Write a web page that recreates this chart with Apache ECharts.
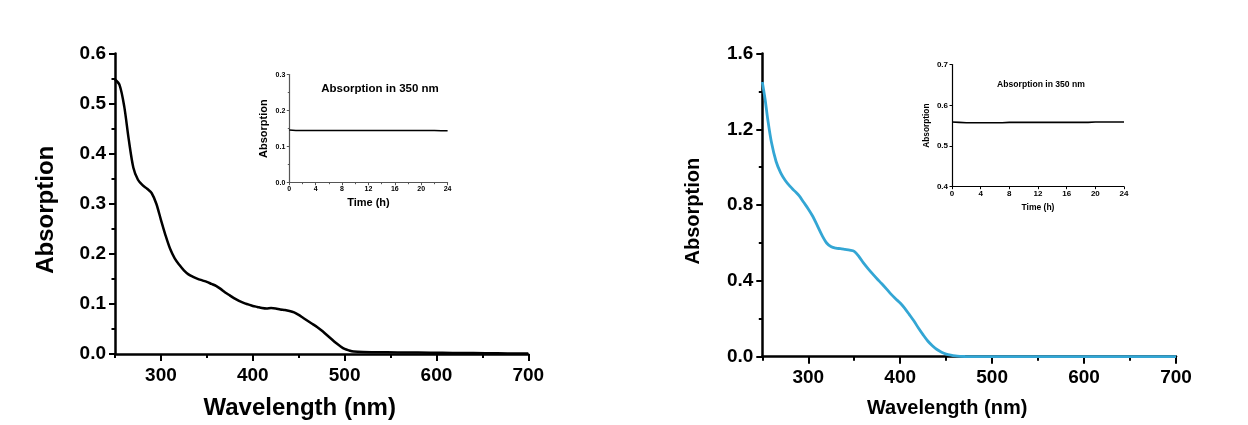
<!DOCTYPE html>
<html>
<head>
<meta charset="utf-8">
<script src="https://cdn.jsdelivr.net/npm/echarts@6/dist/echarts.min.js"></script>
<style>html,body{margin:0;padding:0;background:#fff}#c{width:1248px;height:425px}</style>
</head>
<body>
<div id="c"></div>
<script>
// ---- data ----
const leftWavelength = [250,255,260,265,270,275,280,285,290,295,300,305,310,315,320,325,330,335,340,345,350,355,360,365,370,375,380,385,390,395,400,405,410,415,420,425,430,435,440,445,450,455,460,465,470,475,480,485,490,495,500,505,510,520,540,560,580,600,620,640,660,680,700];
const leftAbsorption = [0.548,0.537,0.495,0.428,0.372,0.348,0.337,0.330,0.321,0.300,0.268,0.237,0.210,0.191,0.178,0.167,0.159,0.154,0.150,0.147,0.144,0.140,0.136,0.130,0.123,0.117,0.111,0.106,0.102,0.099,0.096,0.094,0.092,0.091,0.092,0.091,0.089,0.088,0.086,0.083,0.078,0.072,0.066,0.060,0.054,0.047,0.039,0.031,0.023,0.016,0.010,0.007,0.005,0.004,0.0035,0.003,0.003,0.0025,0.002,0.002,0.0015,0.001,0.001];

const rightWavelength = [250,253,256,260,265,270,275,280,285,290,295,300,305,310,315,320,325,330,335,340,345,350,355,360,365,370,375,380,385,390,395,400,405,410,415,420,425,430,435,440,445,450,455,460,465,470,480,500,550,600,650,700];
const rightAbsorption = [1.45,1.36,1.25,1.13,1.03,0.97,0.93,0.90,0.875,0.85,0.815,0.78,0.74,0.69,0.64,0.600,0.580,0.573,0.570,0.566,0.562,0.556,0.530,0.495,0.465,0.437,0.410,0.385,0.358,0.330,0.306,0.283,0.255,0.222,0.188,0.150,0.115,0.083,0.058,0.038,0.024,0.014,0.008,0.004,0.002,0.001,0,0,0,0,0,0];

const insetTime = [0,1,2,3,4,5,6,7,8,9,10,11,12,13,14,15,16,17,18,19,20,21,22,23,24];
const leftInsetAbs = [0.146,0.145,0.145,0.145,0.145,0.145,0.145,0.145,0.145,0.145,0.145,0.145,0.145,0.145,0.145,0.145,0.145,0.145,0.145,0.145,0.145,0.145,0.145,0.144,0.144];
const rightInsetAbs = [0.559,0.558,0.557,0.557,0.557,0.557,0.557,0.557,0.558,0.558,0.558,0.558,0.558,0.558,0.558,0.558,0.558,0.558,0.558,0.558,0.559,0.559,0.559,0.559,0.559];

const xMajorTicks = [300,400,500,600,700];
const titles = {
  xName: 'Wavelength (nm)', yName: 'Absorption',
  insetTitle: 'Absorption in 350 nm', insetX: 'Time (h)', insetY: 'Absorption'
};

// ---- chart ----
const FONT = '"Liberation Sans", Arial, sans-serif';
const zip = (a, b) => a.map((v, i) => [v, b[i]]);

function mainX(gridIndex, nameSize) {
  return [{
    type: 'value', gridIndex, min: 250, max: 700, position: 'bottom',
    axisLine: { show: true, lineStyle: { color: '#000', width: 2.5 } },
    axisTick: { show: true, inside: false, length: 7, lineStyle: { color: '#000', width: 2 }, customValues: xMajorTicks },
    axisLabel: { show: true, customValues: xMajorTicks, margin: 12, color: '#000', fontFamily: FONT, fontWeight: 'bold', fontSize: 19 },
    splitLine: { show: false },
    name: titles.xName, nameLocation: 'middle', nameGap: 42,
    nameTextStyle: { color: '#000', fontFamily: FONT, fontWeight: 'bold', fontSize: nameSize, padding: [0, 44, 0, 0] }
  }, {
    type: 'value', gridIndex, min: 250, max: 700, interval: 50, position: 'bottom', offset: 0,
    axisLine: { show: false, onZero: false },
    axisTick: { show: true, length: 4, lineStyle: { color: '#000', width: 2 } },
    axisLabel: { show: false }, splitLine: { show: false }
  }];
}
function mainY(gridIndex, max, interval, nameSize, gap) {
  return {
    type: 'value', gridIndex, min: 0, max, interval,
    axisLine: { show: true, lineStyle: { color: '#000', width: 2.5 } },
    axisTick: { show: true, length: 6, lineStyle: { color: '#000', width: 2 } },
    minorTick: { show: true, splitNumber: 2, length: 3.5, lineStyle: { color: '#000', width: 2 } },
    axisLabel: { margin: 9, color: '#000', fontFamily: FONT, fontWeight: 'bold', fontSize: 19, formatter: v => v.toFixed(1) },
    splitLine: { show: false },
    name: titles.yName, nameLocation: 'middle', nameGap: gap, nameRotate: 90,
    nameTextStyle: { color: '#000', fontFamily: FONT, fontWeight: 'bold', fontSize: nameSize, padding: [0, 12, 0, 0] }
  };
}
function insetX(gridIndex, color, fs, nfs, gap, minor) {
  return {
    type: 'value', gridIndex, min: 0, max: 24, interval: 4,
    axisLine: { show: true, lineStyle: { color, width: 1.2 } },
    axisTick: { show: true, length: 2.5, lineStyle: { color, width: 1 } },
    minorTick: { show: minor, splitNumber: 2, length: 1.5, lineStyle: { color, width: 1 } },
    axisLabel: { margin: 3, color: '#000', fontFamily: FONT, fontWeight: 'bold', fontSize: fs },
    splitLine: { show: false },
    name: titles.insetX, nameLocation: 'middle', nameGap: gap,
    nameTextStyle: { color: '#000', fontFamily: FONT, fontWeight: 'bold', fontSize: nfs }
  };
}
function insetY(gridIndex, min, max, color, fs, nfs, gap, minor) {
  return {
    type: 'value', gridIndex, min, max, interval: 0.1,
    axisLine: { show: true, lineStyle: { color, width: 1.2 } },
    axisTick: { show: true, length: 2.5, lineStyle: { color, width: 1 } },
    minorTick: { show: minor, splitNumber: 2, length: 1.5, lineStyle: { color, width: 1 } },
    axisLabel: { margin: 4, color: '#000', fontFamily: FONT, fontWeight: 'bold', fontSize: fs, formatter: v => v.toFixed(1) },
    splitLine: { show: false },
    name: titles.insetY, nameLocation: 'middle', nameGap: gap, nameRotate: 90,
    nameTextStyle: { color: '#000', fontFamily: FONT, fontWeight: 'bold', fontSize: nfs }
  };
}

const mx0 = mainX(0, 24), mx1 = mainX(1, 20);
const option = {
  backgroundColor: '#ffffff',
  animation: false,
  grid: [
    { left: 115, top: 53.5, width: 413.3, height: 303.2 },
    { left: 762.3, top: 53.5, width: 413.7, height: 303.2 },
    { left: 289.3, top: 74.6, width: 158.3, height: 108.1 },
    { left: 952, top: 64.6, width: 172, height: 122.1 }
  ],
  xAxis: [mx0[0], mx0[1], mx1[0], mx1[1],
    insetX(2, '#555', 7, 11, 15, true),
    insetX(3, '#000', 8, 8.5, 16, false)],
  yAxis: [
    mainY(0, 0.6, 0.1, 24, 57),
    mainY(1, 1.6, 0.4, 20, 59),
    insetY(2, 0, 0.3, '#555', 7, 11, 20, true),
    insetY(3, 0.4, 0.7, '#000', 8, 8.3, 21, false)
  ],
  graphic: [
    { type: 'text', x: 380, y: 89, style: { text: titles.insetTitle, fill: '#000', font: 'bold 11.5px ' + FONT, textAlign: 'center', textVerticalAlign: 'middle' } },
    { type: 'text', x: 1041, y: 84.7, style: { text: titles.insetTitle, fill: '#000', font: 'bold 8.6px ' + FONT, textAlign: 'center', textVerticalAlign: 'middle' } }
  ],
  series: [
    { type: 'line', xAxisIndex: 0, yAxisIndex: 0, data: zip(leftWavelength, leftAbsorption), smooth: 0.3, showSymbol: false, lineStyle: { color: '#000', width: 2.5 } },
    { type: 'line', xAxisIndex: 2, yAxisIndex: 1, data: zip(rightWavelength, rightAbsorption), smooth: 0.3, showSymbol: false, lineStyle: { color: '#33a6d4', width: 2.8 } },
    { type: 'line', xAxisIndex: 4, yAxisIndex: 2, data: zip(insetTime, leftInsetAbs), showSymbol: false, lineStyle: { color: '#000', width: 1.5 } },
    { type: 'line', xAxisIndex: 5, yAxisIndex: 3, data: zip(insetTime, rightInsetAbs), showSymbol: false, lineStyle: { color: '#000', width: 1.6 } }
  ]
};
const chart = echarts.init(document.getElementById('c'), null, { renderer: 'canvas' });
chart.setOption(option);
</script>
</body>
</html>
